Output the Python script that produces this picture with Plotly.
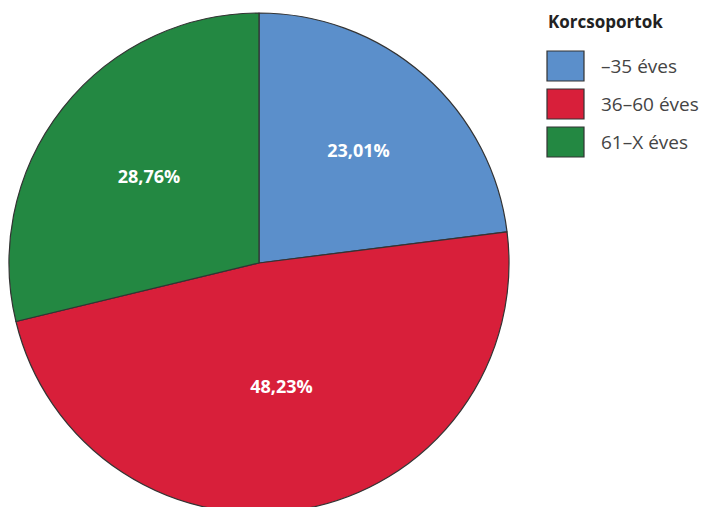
import plotly.graph_objects as go

# Data
categories = ["–35 éves", "36–60 éves", "61–X éves"]
shares = [23.01, 48.23, 28.76]
colors = ["#5B8FCB", "#D81F3A", "#238842"]
legend_title = "Korcsoportok"

# page body has an 8px margin, so the figure is a bit smaller than the window
W, H = 701, 505
OFF = 8  # shift of the page origin

labels_txt = [f"{v:.2f}%".replace(".", ",") for v in shares]


def px(x):
    return (x - OFF) / W


def py(y):
    return 1 - (y - OFF) / H


fig = go.Figure()
fig.add_trace(go.Pie(
    labels=categories,
    values=shares,
    text=labels_txt,
    textinfo="text",
    textposition="inside",
    insidetextorientation="horizontal",
    insidetextfont=dict(family="Open Sans", size=18, color="white", weight="bold"),
    marker=dict(colors=colors, line=dict(color="#333333", width=1.2)),
    sort=False,
    direction="clockwise",
    rotation=0,
    domain=dict(x=[px(9), px(509)], y=[py(513), py(13)]),
    showlegend=False,
))

# manual legend (boxes + labels)
fig.add_annotation(
    x=px(546), y=py(21), xref="paper", yref="paper",
    text="<b>" + legend_title + "</b>", showarrow=False,
    xanchor="left", yanchor="middle",
    font=dict(family="Open Sans", size=17, color="#222222"),
)
row_top = [51, 89, 127]
box_h = 30
for i, (cat, col) in enumerate(zip(categories, colors)):
    y0 = row_top[i]
    fig.add_shape(
        type="rect", xref="paper", yref="paper",
        x0=px(547), x1=px(584),
        y0=py(y0 + box_h), y1=py(y0),
        fillcolor=col, line=dict(color="#333333", width=1.2),
    )
    fig.add_annotation(
        x=px(599), y=py(y0 + box_h / 2), xref="paper", yref="paper",
        text=cat, showarrow=False, xanchor="left", yanchor="middle",
        font=dict(family="Open Sans", size=19, color="#444444"),
    )

fig.update_layout(
    width=W, height=H,
    margin=dict(l=0, r=0, t=0, b=0),
    paper_bgcolor="white",
    plot_bgcolor="white",
)

fig.write_html("out.html")
